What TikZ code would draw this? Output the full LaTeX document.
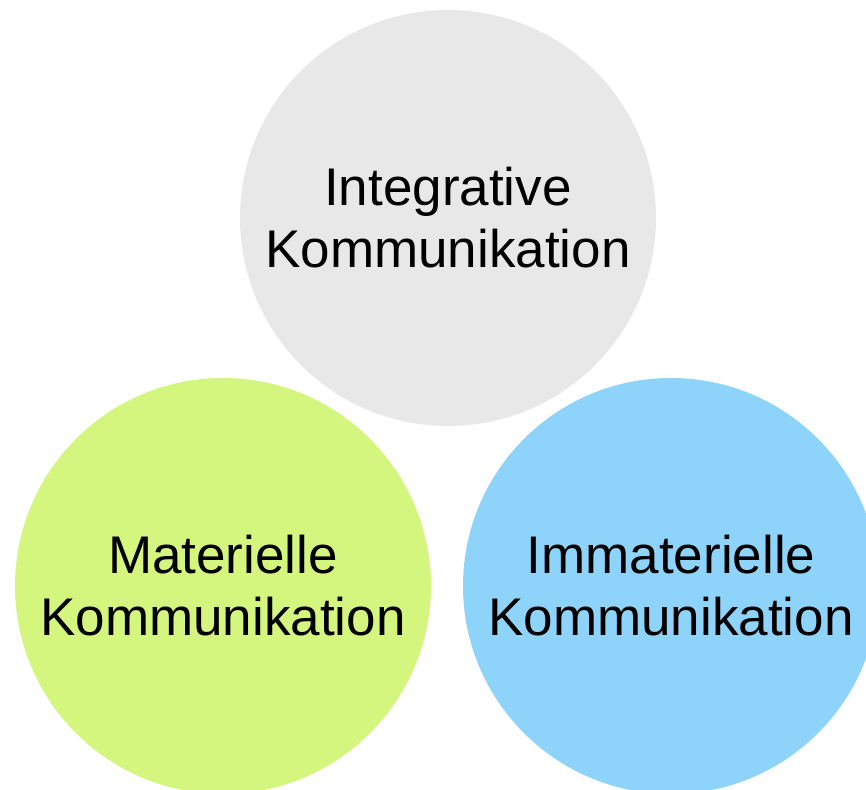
\documentclass[tikz,border=0pt]{standalone}
\usepackage{fontspec}
\setmainfont{Liberation Sans}
\definecolor{cgray}{HTML}{E8E8E8}
\definecolor{cgreen}{HTML}{D4F67E}
\definecolor{cblue}{HTML}{8ED3FA}
\begin{document}
\begin{tikzpicture}[x=1pt,y=1pt,
  bubble/.style={circle,draw=none,minimum size=416pt,inner sep=0pt,align=center,
    font=\fontsize{53}{62}\selectfont,text=black}]
\clip (0,0) rectangle (866,789);
\useasboundingbox (0,0) rectangle (866,789);
\node[bubble,fill=cgray] (top) at (448,571) {Integrative\\Kommunikation};
\node[bubble,fill=cgreen] (left) at (223,203) {Materielle\\Kommunikation};
\node[bubble,fill=cblue] (right) at (671,203) {Immaterielle\\Kommunikation};
\end{tikzpicture}
\end{document}
